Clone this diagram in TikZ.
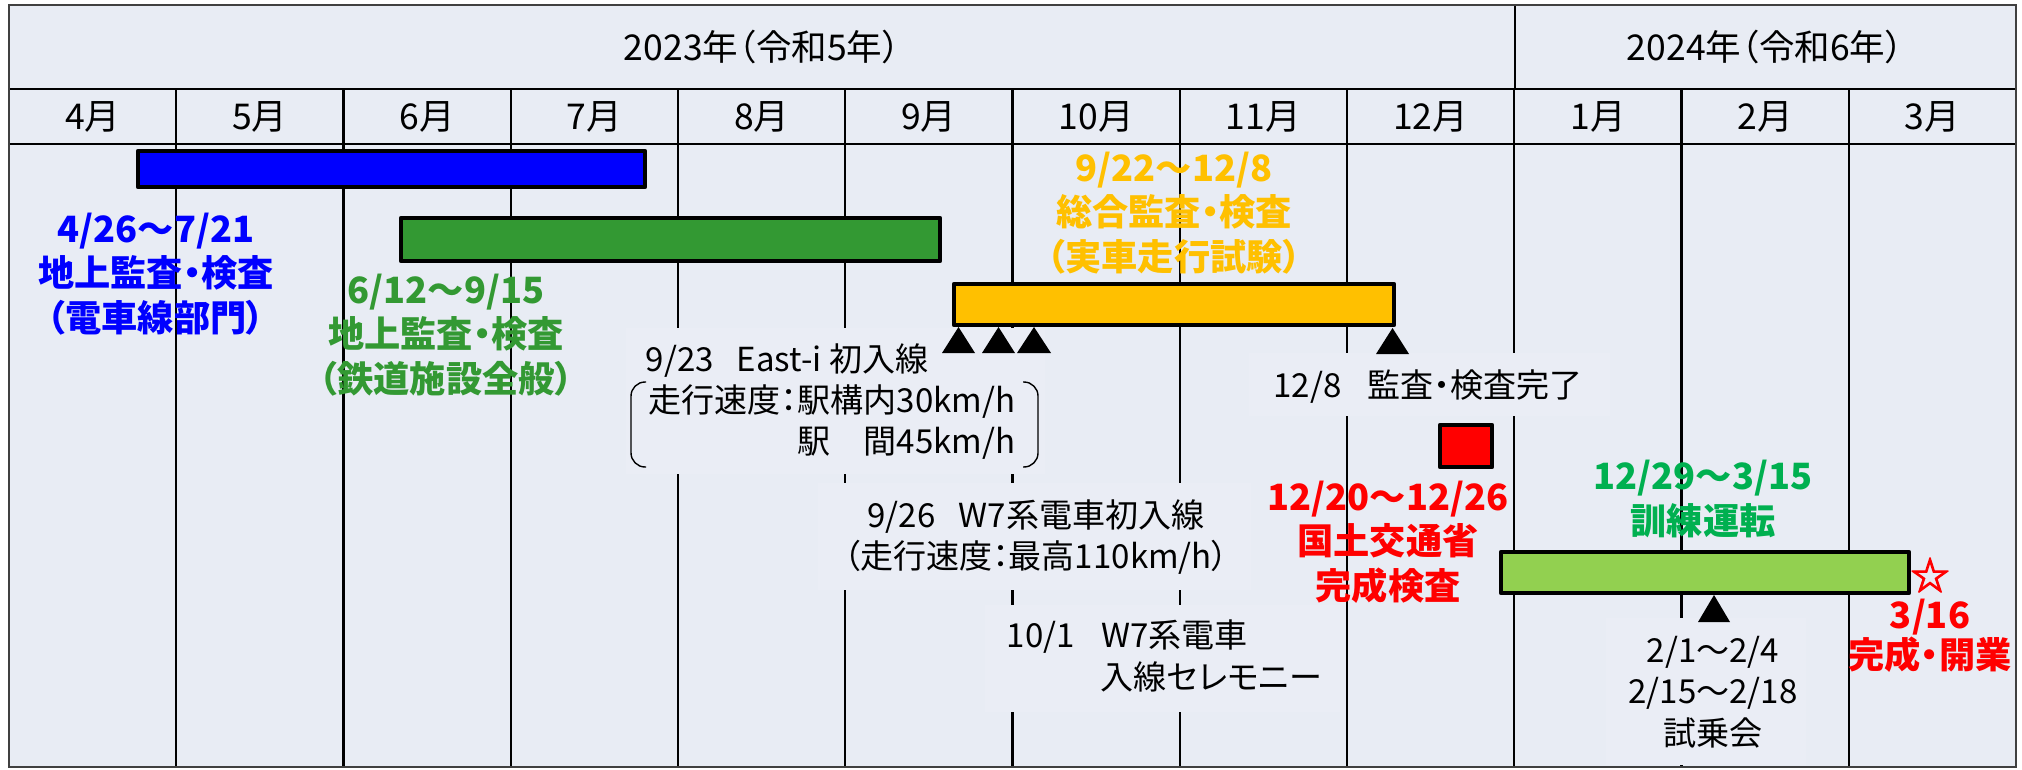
\documentclass[tikz,border=0pt]{standalone}
\usepackage{fontspec}
\setmainfont{Noto Sans CJK JP}[RawFeature=+palt]
\newfontfamily\starfont{Noto Sans CJK JP}[FakeBold=3]
\definecolor{bgc}{HTML}{E8ECF4}
\definecolor{boxc}{HTML}{EAEDF5}
\definecolor{cblue}{HTML}{0000FF}
\definecolor{cgreen}{HTML}{339933}
\definecolor{cyellow}{HTML}{FFC000}
\definecolor{cred}{HTML}{FF0000}
\definecolor{cgreenb}{HTML}{00B050}
\definecolor{clight}{HTML}{92D050}
\definecolor{cborder}{HTML}{404040}
\tikzset{
  gridline/.style={line width=0.65pt, black},
  outer/.style={line width=0.7pt, cborder},
  barbox/.style={line width=1.3pt, black, line join=round},
  tbox/.style={fill=boxc},
  tri/.style={fill=black},
  hdr/.style={inner sep=0pt, font=\fontsize{10.1}{12}\selectfont},
  blk/.style={inner sep=0pt, align=center, font=\fontsize{9.4}{11.8}\selectfont},
  col/.style={inner sep=0pt, align=center, font=\fontsize{10.3}{12.6}\selectfont\bfseries},
  brk/.style={line width=0.4pt, black, rounded corners=4pt},
}
\begin{document}
\begin{tikzpicture}[x=0.01cm,y=-0.01cm]
\useasboundingbox (0,0) rectangle (2022,770);
\fill[white] (0,0) rectangle (2022,770);
\fill[bgc] (9,5) rectangle (2016,767);
% grid
\draw[gridline] (9,89) -- (2016,89);
\draw[gridline] (9,144) -- (2016,144);
\draw[gridline] (1515,5) -- (1515,89);
\foreach \i in {1,...,11} \draw[gridline] ({9+167.25*\i},89) -- ({9+167.25*\i},767);
\draw[outer] (9,5) rectangle (2016,767);
% headers
\node[hdr] (y2023) at (762,47) {2023年（令和5年）};
\node[hdr] (y2024) at (1765,47) {2024年（令和6年）};
\foreach \m [count=\i from 0] in {4,5,6,7,8,9,10,11,12,1,2,3}
  \node[hdr] (m\i) at ({9+167.25*(\i+0.5)},116.5) {\m 月};
% text boxes hiding grid lines
\fill[tbox] (626,328) rectangle (1045,474);
\fill[tbox] (818,483) rectangle (1251,590);
\fill[tbox] (985,605) rectangle (1340,712);
\fill[tbox] (1249,353) rectangle (1610,416);
\fill[tbox] (1606,618) rectangle (1806,765);
% bars
\draw[barbox, fill=cblue] (138,151) rectangle (645,187);
\draw[barbox, fill=cgreen] (401,218) rectangle (940,261);
\draw[barbox, fill=cyellow] (954,284) rectangle (1394,325);
\draw[barbox, fill=cred] (1440,425) rectangle (1492,467);
\draw[barbox, fill=clight] (1501,552) rectangle (1909,593);
% triangles
\fill[tri] (942,353) -- (958.5,327) -- (975,353) -- cycle;
\fill[tri] (982,353) -- (998.5,327) -- (1015,353) -- cycle;
\fill[tri] (1017,353) -- (1034,327) -- (1051,353) -- cycle;
\fill[tri] (1376,354) -- (1392.5,328) -- (1409,354) -- cycle;
\fill[tri] (1698,622) -- (1714,595) -- (1730,622) -- cycle;
% coloured labels
\node[col, text=cblue] (lblue) at (156,274) {4/26～7/21\\地上監査・検査\\（電車線部門）};
\node[col, text=cgreen] (lgreen) at (446,335) {6/12～9/15\\地上監査・検査\\（鉄道施設全般）};
\node[col, text=cyellow] (lyellow) at (1174,213) {9/22～12/8\\総合監査・検査\\（実車走行試験）};
\node[col, text=cred] (lred) at (1388,542) {12/20～12/26\\国土交通省\\完成検査};
\node[col, text=cgreenb] (ltrain) at (1703,499) {12/29～3/15\\訓練運転};
\node[col, text=cred, font=\fontsize{10.3}{11.4}\selectfont\bfseries] (lopen) at (1930,636) {3/16\\完成・開業};
\node[inner sep=0pt, text=cred, font=\fontsize{11}{12}\selectfont\starfont] (lstar) at (1930,575) {☆};
% black labels
\node[blk, anchor=west] (t923) at (645,361) {9/23\hspace{0.7em}East-i 初入線};
\node[blk, anchor=east] (sp1) at (1016,402) {走行速度：駅構内30km/h};
\node[blk, anchor=east] (sp2) at (1016,443) {駅　間45km/h};
\draw[brk] (646,382) -- (631,382) -- (631,467) -- (646,467);
\draw[brk] (1023,382) -- (1038,382) -- (1038,467) -- (1023,467);
\node[blk] (t926) at (1036,537) {9/26\hspace{0.7em}W7系電車初入線\\（走行速度：最高110km/h）};
\node[blk, anchor=west] (t101a) at (1006,637) {10/1\hspace{0.8em}W7系電車};
\node[blk, anchor=west] (t101b) at (1100,677) {入線セレモニー};
\node[blk] (t128) at (1428,387) {12/8\hspace{0.8em}監査・検査完了};
\node[blk] (tride) at (1713,692) {2/1～2/4\\2/15～2/18\\試乗会};
\end{tikzpicture}
\end{document}
